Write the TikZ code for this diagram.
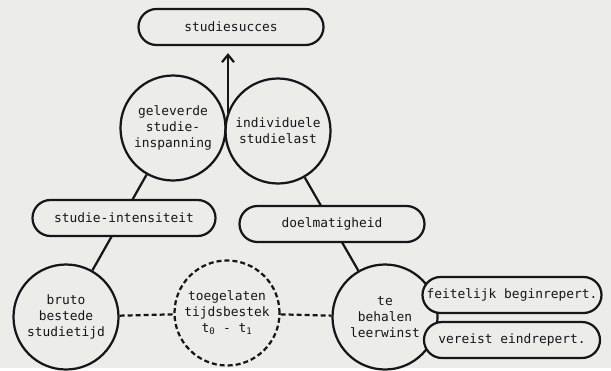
\documentclass[tikz,border=0pt]{standalone}
\usepackage{fontspec}
\setmonofont{DejaVu Sans Mono}
\usetikzlibrary{arrows.meta}
\definecolor{papier}{RGB}{236,236,233}
\definecolor{inkt}{RGB}{22,22,22}

\begin{document}
\begin{tikzpicture}[x=0.03cm, y=-0.03cm,
    every node/.style={font=\ttfamily\fontsize{11}{13.6}\selectfont, align=center, inner sep=0pt, text=inkt},
    pil/.style={draw=inkt, line width=1.9pt, rounded corners=0.54cm, minimum height=1.08cm, fill=papier},
    bol/.style={draw=inkt, circle, line width=1.9pt, minimum size=3.15cm},
    lijn/.style={draw=inkt, line width=1.9pt},
    streep/.style={draw=inkt, line width=1.9pt, dash pattern=on 0.15cm off 0.09cm}]
    \fill [papier] (0, 0) rectangle (611, 368);
    % bovenste deel
    \node [pil, minimum width=5.55cm] (succes) at (231, 27) {studiesucces};
    \node [bol] (geleverd) at (173, 128) {geleverde\\studie-\\inspanning};
    \node [bol] (individueel) at (278, 131) {individuele\\studielast};
    \coordinate (snijpunt) at (228, 113);
    \draw [lijn, -{Straight Barb[length=2.2mm, width=3.6mm]}, shorten >=0.21cm] (snijpunt) -- (snijpunt |- succes.south);
    % onderste deel
    \node [bol] (bruto) at (66, 317) {bruto\\bestede\\studietijd};
    \node [bol, streep] (tijdsbestek) at (227, 313) {toegelaten\\tijdsbestek\\t\textsubscript{0} - t\textsubscript{1}};
    \node [bol] (leerwinst) at (385, 317) {te\\behalen\\leerwinst};
    \draw [streep] (bruto) -- (tijdsbestek);
    \draw [streep] (tijdsbestek) -- (leerwinst);
    % tussenschakels
    \draw [lijn] (geleverd) -- (bruto);
    \draw [lijn] (individueel) -- (leerwinst);
    \node [pil, minimum width=5.49cm] (intensiteit) at (124, 218) {studie-intensiteit};
    \node [pil, minimum width=5.55cm] (doelmatig) at (332, 224) {doelmatigheid};
    % repertoires
    \node [pil, minimum width=5.37cm] (feitelijk) at (512, 295) {feitelijk beginrepert.};
    \node [pil, minimum width=5.28cm] (vereist) at (512, 340) {vereist eindrepert.};
\end{tikzpicture}
\end{document}
